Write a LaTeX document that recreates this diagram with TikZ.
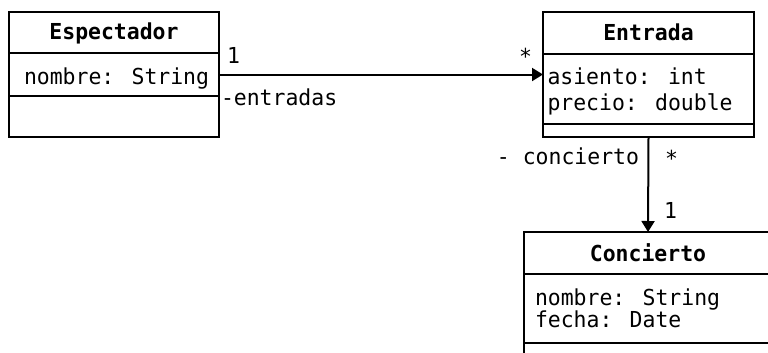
\documentclass[tikz,border=0pt]{standalone}
\usepackage{fontspec}
\newfontfamily\umlfont[FakeStretch=0.975]{DejaVu Sans Mono}
\usetikzlibrary{arrows.meta}

\tikzset{
  umltext/.style={inner sep=0pt, outer sep=0pt, font=\umlfont\fontsize{22bp}{26bp}\selectfont},
  umltitle/.style={umltext, font=\umlfont\bfseries\fontsize{22bp}{26bp}\selectfont},
  classbox/.style={draw, line width=2bp, inner sep=0pt, outer sep=0pt, anchor=north west},
  sep/.style={line width=2bp},
  assoc/.style={line width=2bp, -{Triangle[length=11bp,width=13bp]}},
}

\begin{document}
\begin{tikzpicture}[x=1bp, y=-1bp]
\useasboundingbox (0,0) rectangle (768,352);
\fill[white] (0,0) rectangle (768,352);
\begin{scope}
\clip (0,0) rectangle (768,352);

% Espectador
\node[classbox, minimum width=210bp, minimum height=125bp] (esp) at (9,12) {};
\draw[sep] ([yshift=-41bp]esp.north west) -- ([yshift=-41bp]esp.north east);
\draw[sep] ([yshift=-84bp]esp.north west) -- ([yshift=-84bp]esp.north east);
\node[umltitle, anchor=base] (esp-name) at (114,39.5) {Espectador};
\node[umltext, anchor=base west] (esp-a1) at (24,84) {nombre: String};

% Entrada
\node[classbox, minimum width=211bp, minimum height=125bp] (ent) at (543,12) {};
\draw[sep] ([yshift=-42bp]ent.north west) -- ([yshift=-42bp]ent.north east);
\draw[sep] ([yshift=-111.5bp]ent.north west) -- ([yshift=-111.5bp]ent.north east);
\node[umltitle, anchor=base] (ent-name) at (648.5,40) {Entrada};
\node[umltext, anchor=base west] (ent-a1) at (547.5,84) {asiento: int};
\node[umltext, anchor=base west] (ent-a2) at (547.5,110) {precio: double};

% Concierto
\node[classbox, minimum width=248bp, minimum height=128bp] (con) at (524,232) {};
\draw[sep] ([yshift=-42bp]con.north west) -- ([yshift=-42bp]con.north east);
\draw[sep] ([yshift=-111bp]con.north west) -- ([yshift=-111bp]con.north east);
\node[umltitle, anchor=base] (con-name) at (648,261) {Concierto};
\node[umltext, anchor=base west] (con-a1) at (535,305) {nombre: String};
\node[umltext, anchor=base west] (con-a2) at (535,327) {fecha: Date};

% Associations
\draw[assoc] (esp.east) -- (ent.west);
\draw[assoc] (ent.south) -- (con.north);

% Multiplicities and role names
\node[umltext, anchor=base west] (m-esp) at (227,63) {1};
\node[umltext, anchor=base west] (r-entradas) at (221,105) {-entradas};
\node[umltext, anchor=base] (m-ent) at (525.5,64.5) {*};
\node[umltext, anchor=base east] (r-concierto) at (639,164) {- concierto};
\node[umltext, anchor=base] (m-ent2) at (671.5,166) {*};
\node[umltext, anchor=base west] (m-con) at (664,218) {1};
\end{scope}
\end{tikzpicture}
\end{document}
